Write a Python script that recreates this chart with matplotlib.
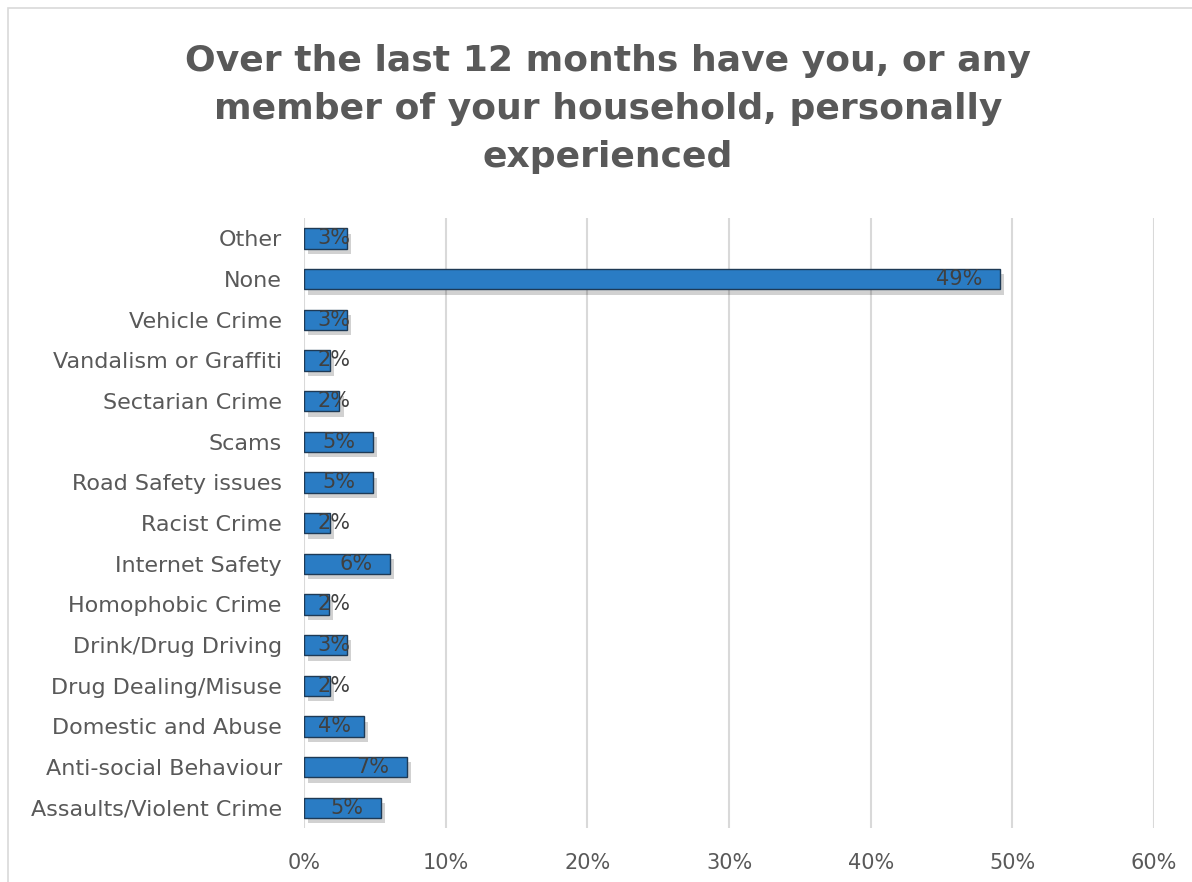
import matplotlib
matplotlib.use("Agg")
import matplotlib.pyplot as plt
import matplotlib.patheffects as pe
from matplotlib.patches import Rectangle

categories = ["Assaults/Violent Crime", "Anti-social Behaviour", "Domestic and Abuse",
              "Drug Dealing/Misuse", "Drink/Drug Driving", "Homophobic Crime",
              "Internet Safety", "Racist Crime", "Road Safety issues", "Scams",
              "Sectarian Crime", "Vandalism or Graffiti", "Vehicle Crime", "None", "Other"]
values = [5.4, 7.25, 4.2, 1.8, 3.0, 1.75, 6.05, 1.8, 4.85, 4.85, 2.5, 1.8, 3.0, 49.1, 3.0]
xticks = [0, 10, 20, 30, 40, 50, 60]
title = "Over the last 12 months have you, or any\nmember of your household, personally\nexperienced"

gray = "#595959"
fig = plt.figure(figsize=(11.92, 8.82), dpi=100)
ax = fig.add_axes([304/1192, 1-828/882, 850/1192, 610/882])

y = list(range(len(categories)))
bars = ax.barh(y, values, height=0.5, color="#2A7CC4", edgecolor="#1E3A56", linewidth=1.0,
               zorder=3)
for b in bars:
    b.set_path_effects([pe.SimplePatchShadow(offset=(3, -4), shadow_rgbFace="black", alpha=0.18),
                        pe.Normal()])

for yi, v in zip(y, values):
    xr = max(v - 1.2, 3.3)
    ax.text(xr, yi, f"{round(v):.0f}%", ha="right", va="center", fontsize=15,
            color="#404040", zorder=4)

ax.set_xlim(0, 60)
ax.set_ylim(-0.5, len(categories) - 0.5)
ax.set_xticks(xticks)
ax.set_xticklabels([f"{t}%" for t in xticks], fontsize=15, color=gray)
ax.set_yticks(y)
ax.set_yticklabels(categories, fontsize=16, color=gray)
ax.tick_params(length=0, pad=16, axis="y")
ax.tick_params(length=0, pad=18, axis="x")
ax.grid(axis="x", color="#D9D9D9", linewidth=1.5, zorder=0)
for s in ax.spines.values():
    s.set_visible(False)

fig.text(608/1192, 1-109/882, title, ha="center", va="center", fontsize=26,
         fontweight="bold", color=gray, linespacing=1.5)

fig.patches.append(Rectangle((8/1192, -0.01), 1.0, 1-8/882 + 0.01, transform=fig.transFigure,
                             fill=False, edgecolor="#D9D9D9", linewidth=1.2))

fig.savefig("out.png", dpi=100)
